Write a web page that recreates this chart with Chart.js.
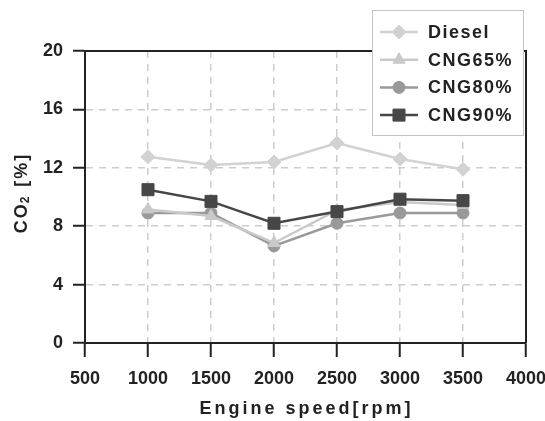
<!DOCTYPE html>
<html lang="en">
  <head>
    <meta charset="UTF-8" />
    <title>CO2 vs engine speed</title>
    <script src="https://cdn.jsdelivr.net/npm/chart.js"></script>
    <style>
      html,
      body {
        margin: 0;
        padding: 0;
        background: #ffffff;
      }
      .chart-box {
        width: 545px;
        height: 421px;
      }
    </style>
  </head>
  <body>
    <div class="chart-box">
      <canvas id="co2Chart" width="545" height="421"></canvas>
    </div>

    <script>
      // values
      const speeds = [1000, 1500, 2000, 2500, 3000, 3500];
      const diesel = [12.75, 12.2, 12.4, 13.7, 12.6, 11.9];
      const cng65 = [9.15, 8.7, 6.85, 9.1, 9.65, 9.45];
      const cng80 = [8.9, 8.9, 6.65, 8.2, 8.9, 8.9];
      const cng90 = [10.5, 9.7, 8.2, 9.0, 9.85, 9.75];

      const seriesNames = ["Diesel", "CNG65%", "CNG80%", "CNG90%"];
      const xTicks = [500, 1000, 1500, 2000, 2500, 3000, 3500, 4000];
      const yTicks = [0, 4, 8, 12, 16, 20];
      const xTitle = "Engine speed[rpm]";
      const yTitleParts = ["CO", "2", " [%]"]; // CO2 with subscript 2

      const FONT = "'Liberation Sans', Arial, sans-serif";

      function toPoints(values) {
        return speeds.map((s, i) => ({ x: s, y: values[i] }));
      }

      function makeSet(label, values, color, style, radius, order) {
        return {
          label: label,
          data: toPoints(values),
          borderColor: color,
          backgroundColor: color,
          borderWidth: 2.5,
          pointStyle: style,
          pointRadius: radius,
          pointBackgroundColor: color,
          pointBorderColor: color,
          pointBorderWidth: 1,
          order: order,
          tension: 0,
        };
      }

      // frame on the top and right side of the plot
      const framePlugin = {
        id: "frame",
        beforeDatasetsDraw(chart) {
          const { ctx, chartArea: a } = chart;
          ctx.save();
          ctx.strokeStyle = "#222";
          ctx.lineWidth = 2;
          ctx.beginPath();
          ctx.moveTo(a.left, a.top);
          ctx.lineTo(a.right, a.top);
          ctx.lineTo(a.right, a.bottom);
          ctx.stroke();
          ctx.restore();
        },
      };

      // axis titles, slightly letter-spaced like the original
      const titlePlugin = {
        id: "axisTitles",
        afterDraw(chart) {
          const { ctx, chartArea: a } = chart;
          ctx.save();
          ctx.fillStyle = "#222";
          ctx.font = "bold 18px " + FONT;
          ctx.textAlign = "center";
          ctx.textBaseline = "middle";
          ctx.letterSpacing = "3px";
          ctx.fillText(xTitle, (a.left + a.right) / 2 + 1, 409);

          // y title, rotated, with a small subscript 2
          ctx.letterSpacing = "2px";
          ctx.textAlign = "left";
          const big = "bold 18px " + FONT;
          const small = "bold 12px " + FONT;
          ctx.font = big;
          const w0 = ctx.measureText(yTitleParts[0]).width;
          const w2 = ctx.measureText(yTitleParts[2]).width;
          ctx.font = small;
          const w1 = ctx.measureText(yTitleParts[1]).width;
          const total = w0 + w1 + w2;
          ctx.translate(22, 193);
          ctx.rotate(-Math.PI / 2);
          let x = -total / 2;
          ctx.font = big;
          ctx.fillText(yTitleParts[0], x, 0);
          x += w0;
          ctx.font = small;
          ctx.fillText(yTitleParts[1], x - 1, 4);
          x += w1;
          ctx.font = big;
          ctx.fillText(yTitleParts[2], x, 0);
          ctx.restore();
        },
      };

      // boxed legend sitting over the top right corner
      const legendPlugin = {
        id: "boxLegend",
        afterDraw(chart) {
          const { ctx } = chart;
          const x0 = 372, y0 = 10, w = 151, h = 125;
          ctx.save();
          ctx.fillStyle = "#fff";
          ctx.fillRect(x0, y0, w, h);
          ctx.strokeStyle = "#c4c4c4";
          ctx.lineWidth = 1;
          ctx.strokeRect(x0 + 0.5, y0 + 0.5, w, h);
          ctx.font = "bold 18px " + FONT;
          ctx.letterSpacing = "1.5px";
          ctx.textBaseline = "middle";
          ctx.textAlign = "left";
          chart.data.datasets.forEach((ds, i) => {
            const y = 32 + i * 27.7;
            ctx.strokeStyle = ds.borderColor;
            ctx.lineWidth = 2.5;
            ctx.beginPath();
            ctx.moveTo(380, y);
            ctx.lineTo(418, y);
            ctx.stroke();
            ctx.fillStyle = ds.pointBackgroundColor;
            ctx.lineWidth = 1;
            Chart.helpers.drawPoint(ctx, { pointStyle: ds.pointStyle, radius: ds.pointRadius, borderWidth: 1, rotation: 0 }, 399, y);
            ctx.fillStyle = "#222";
            ctx.fillText(ds.label, 428, y + 1);
          });
          ctx.restore();
        },
      };

      const gridColor = (c, ends) =>
        ends.includes(c.tick && c.tick.value) ? "rgba(0,0,0,0)" : "#cdcdcd";

      new Chart(document.getElementById("co2Chart").getContext("2d"), {
        type: "line",
        data: {
          datasets: [
            makeSet(seriesNames[0], diesel, "#d2d2d2", "rectRot", 7, 3),
            makeSet(seriesNames[1], cng65, "#c9c9c9", "triangle", 7, 1),
            makeSet(seriesNames[2], cng80, "#999999", "circle", 6, 2),
            makeSet(seriesNames[3], cng90, "#474747", "rect", 8.5, 0),
          ],
        },
        options: {
          responsive: false,
          animation: false,
          layout: { padding: { top: 51, right: 19, left: 0, bottom: 0 } },
          plugins: {
            legend: { display: false },
            tooltip: { enabled: false },
          },
          scales: {
            x: {
              type: "linear",
              min: xTicks[0],
              max: xTicks[xTicks.length - 1],
              afterBuildTicks: (s) => {
                s.ticks = xTicks.map((v) => ({ value: v }));
              },
              afterFit: (s) => {
                s.height = 78;
                s.paddingLeft = 0;
                s.paddingRight = 0;
              },
              ticks: {
                color: "#222",
                font: { family: FONT, size: 18, weight: "bold" },
                padding: 11,
                maxRotation: 0,
                autoSkip: false,
                callback: (v) => String(v),
              },
              grid: {
                color: (c) => gridColor(c, [500, 4000]),
                lineWidth: 1.5,
                tickColor: "#222",
                tickWidth: 2,
                tickLength: 14,
              },
              border: { color: "#222", width: 2, dash: [7, 6] },
            },
            y: {
              min: yTicks[0],
              max: yTicks[yTicks.length - 1],
              afterBuildTicks: (s) => {
                s.ticks = yTicks.map((v) => ({ value: v }));
              },
              afterFit: (s) => {
                s.width = 85;
                s.paddingTop = 0;
                s.paddingBottom = 0;
              },
              ticks: {
                color: "#222",
                font: { family: FONT, size: 18, weight: "bold" },
                padding: 10,
                callback: (v) => String(v),
              },
              grid: {
                color: (c) => gridColor(c, [0, 20]),
                lineWidth: 1.5,
                tickColor: "#222",
                tickWidth: 2,
                tickLength: 12,
              },
              border: { color: "#222", width: 2, dash: [7, 6] },
            },
          },
        },
        plugins: [framePlugin, titlePlugin, legendPlugin],
      });
    </script>
  </body>
</html>
